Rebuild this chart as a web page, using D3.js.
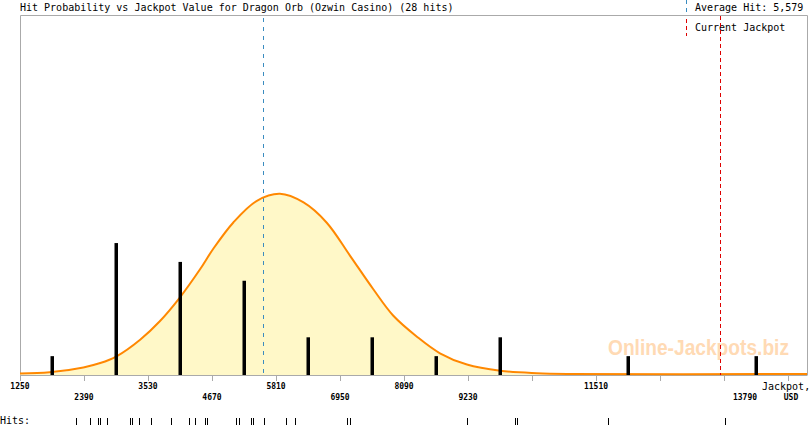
<!DOCTYPE html>
<html>
<head>
<meta charset="utf-8">
<script src="https://cdn.jsdelivr.net/npm/d3@7"></script>
<style>
  body { margin: 0; background: #fff; }
  svg { display: block; }
</style>
</head>
<body>
<div id="chart"></div>
<script>
// jackpot value of each recorded hit (USD)
var hits = [2248, 2497, 2634, 2680, 2805, 3209, 3250, 3375, 3578, 3934,
    4260, 4367, 4545, 4581, 5098, 5146, 5359, 5406, 5602, 5988,
    6154, 7069, 7128, 9207, 10070, 10100, 11718, 13808];

// fitted probability curve, in expected hits per bin
var curveJackpot = [1250, 1780, 2380, 2680, 2970, 3390, 3740, 4100, 4460, 4690,
    5050, 5470, 5880, 6300, 6710, 7130, 7540, 7900, 8320, 8730,
    9210, 9800, 10450, 11000, 15268];
var curveLevel = [0.03, 0.09, 0.35, 0.58, 0.94, 1.82, 2.8, 4.07, 5.57, 6.63,
    8.04, 9.19, 9.56, 9.10, 8.04, 6.27, 4.51, 3.09, 1.98, 1.1,
    0.5, 0.17, 0.04, 0, 0];

var tickValues = [1250, 2390, 3530, 4670, 5810, 6950, 8090, 9230, 10370, 11510, 12650, 13790, 14930];
var labelRow1 = [1250, 3530, 5810, 8090, 11510];
var labelRow2 = [2390, 4670, 6950, 9230, 13790];

var averageHit = 5579;
var currentJackpot = 13719;
var binStart = 1250, binWidth = 1140;

var W = 810, H = 425;
var plotL = 20, plotR = 807, plotT = 15, plotB = 375;
var mono = "'DejaVu Sans Mono', monospace";

var svg = d3.select('#chart').append('svg')
    .attr('width', W)
    .attr('height', H);

var x = d3.scaleLinear().domain([1250, 15268]).range([plotL, plotR]);
var y = d3.scaleLinear().domain([0, 19.1]).range([plotB, plotT]);

// frame
svg.append('path')
    .attr('d', 'M' + (plotL + 0.5) + ',' + plotB + 'V' + (plotT + 0.5) + 'H' + (plotR + 0.5) + 'V' + plotB)
    .attr('fill', 'none')
    .attr('stroke', '#aaa');

// title + legend
svg.append('text')
    .attr('x', 20).attr('y', 11)
    .style('font-family', mono).style('font-size', '10px')
    .text('Hit Probability vs Jackpot Value for Dragon Orb (Ozwin Casino) (' + hits.length + ' hits)');

svg.append('line')
    .attr('x1', 686.5).attr('x2', 686.5).attr('y1', 0).attr('y2', 13)
    .attr('stroke', '#3a8cc0').attr('stroke-dasharray', '4,4');
svg.append('text')
    .attr('x', 695).attr('y', 11)
    .style('font-family', mono).style('font-size', '10px')
    .text('Average Hit: ' + d3.format(',')(averageHit));

svg.append('line')
    .attr('x1', 686.5).attr('x2', 686.5).attr('y1', 19).attr('y2', 36)
    .attr('stroke', '#dd0000').attr('stroke-dasharray', '4,3');
svg.append('text')
    .attr('x', 695).attr('y', 31)
    .style('font-family', mono).style('font-size', '10px')
    .text('Current Jackpot');

// watermark
svg.append('text')
    .attr('x', 608).attr('y', 355)
    .attr('textLength', 181).attr('lengthAdjust', 'spacingAndGlyphs')
    .style('font-family', "'Liberation Sans', Arial, sans-serif")
    .style('font-size', '22px').style('font-weight', 'bold')
    .attr('fill', '#ffdab4')
    .text('Online-Jackpots.biz');

// probability curve
var curveData = curveJackpot.map(function(v, i) { return { v: v, p: curveLevel[i] }; });
var smooth = d3.curveCatmullRom.alpha(0.5);

svg.append('path')
    .datum(curveData)
    .attr('fill', '#fff8c8')
    .attr('d', d3.area()
        .x(function(d) { return x(d.v); })
        .y0(plotB)
        .y1(function(d) { return y(d.p); })
        .curve(smooth));

// average hit line
svg.append('line')
    .attr('x1', Math.round(x(averageHit)) + 0.5).attr('x2', Math.round(x(averageHit)) + 0.5)
    .attr('y1', plotT + 3).attr('y2', plotB)
    .attr('stroke', '#3a8cc0').attr('stroke-dasharray', '4,5');

// x axis
var axis = svg.append('g')
    .attr('transform', 'translate(0,' + plotB + ')')
    .call(d3.axisBottom(x).tickValues(tickValues).tickSize(6).tickSizeOuter(0).tickFormat(''));
axis.select('.domain').attr('stroke', '#aaa');
axis.selectAll('.tick line').attr('stroke', '#aaa');

svg.append('path')
    .datum(curveData)
    .attr('fill', 'none')
    .attr('stroke', '#ff8800')
    .attr('stroke-width', 2)
    .attr('d', d3.line()
        .x(function(d) { return x(d.v); })
        .y(function(d) { return y(d.p) - 1; })
        .curve(smooth));

svg.selectAll('.lab1')
    .data(labelRow1)
    .enter().append('text')
    .attr('class', 'lab1')
    .attr('x', function(d) { return x(d); })
    .attr('y', 389)
    .attr('text-anchor', 'middle')
    .style('font-family', mono).style('font-size', '8px').style('font-weight', 'bold')
    .text(function(d) { return d; });

svg.selectAll('.lab2')
    .data(labelRow2)
    .enter().append('text')
    .attr('class', 'lab2')
    .attr('x', function(d) { return x(d); })
    .attr('dx', function(d) { return d === 13790 ? 21 : 0; }) // moved off the jackpot line
    .attr('y', 400)
    .attr('text-anchor', 'middle')
    .style('font-family', mono).style('font-size', '8px').style('font-weight', 'bold')
    .text(function(d) { return d; });

svg.append('text')
    .attr('x', 762).attr('y', 390)
    .style('font-family', mono).style('font-size', '10px')
    .text('Jackpot,');
svg.append('text')
    .attr('x', 791).attr('y', 400)
    .attr('text-anchor', 'middle')
    .style('font-family', mono).style('font-size', '8px').style('font-weight', 'bold')
    .text('USD');

// hit histogram
var thresholds = d3.range(binStart, 15268, binWidth);
var bins = d3.bin()
    .domain([binStart, binStart + binWidth * thresholds.length])
    .thresholds(thresholds)(hits)
    .filter(function(b) { return b.length > 0; });

svg.selectAll('.bar')
    .data(bins)
    .enter().append('rect')
    .attr('class', 'bar')
    .attr('x', function(d) { return Math.round(x((d.x0 + d.x1) / 2)) - 1.5; })
    .attr('width', 3.5)
    .attr('y', function(d) { return y(d.length); })
    .attr('height', function(d) { return plotB - y(d.length); })
    .attr('fill', '#000');

// current jackpot line
svg.append('line')
    .attr('x1', Math.round(x(currentJackpot)) + 0.5).attr('x2', Math.round(x(currentJackpot)) + 0.5)
    .attr('y1', plotT + 1).attr('y2', plotB)
    .attr('stroke', '#dd0000').attr('stroke-dasharray', '4,3');

// hit rug
svg.append('text')
    .attr('x', 0).attr('y', 424)
    .style('font-family', mono).style('font-size', '10px')
    .text('Hits:');

svg.selectAll('.rug')
    .data(hits)
    .enter().append('line')
    .attr('class', 'rug')
    .attr('x1', function(d) { return Math.round(x(d)) + 0.5; })
    .attr('x2', function(d) { return Math.round(x(d)) + 0.5; })
    .attr('y1', 418).attr('y2', 425)
    .attr('stroke', '#000');
</script>
</body>
</html>
